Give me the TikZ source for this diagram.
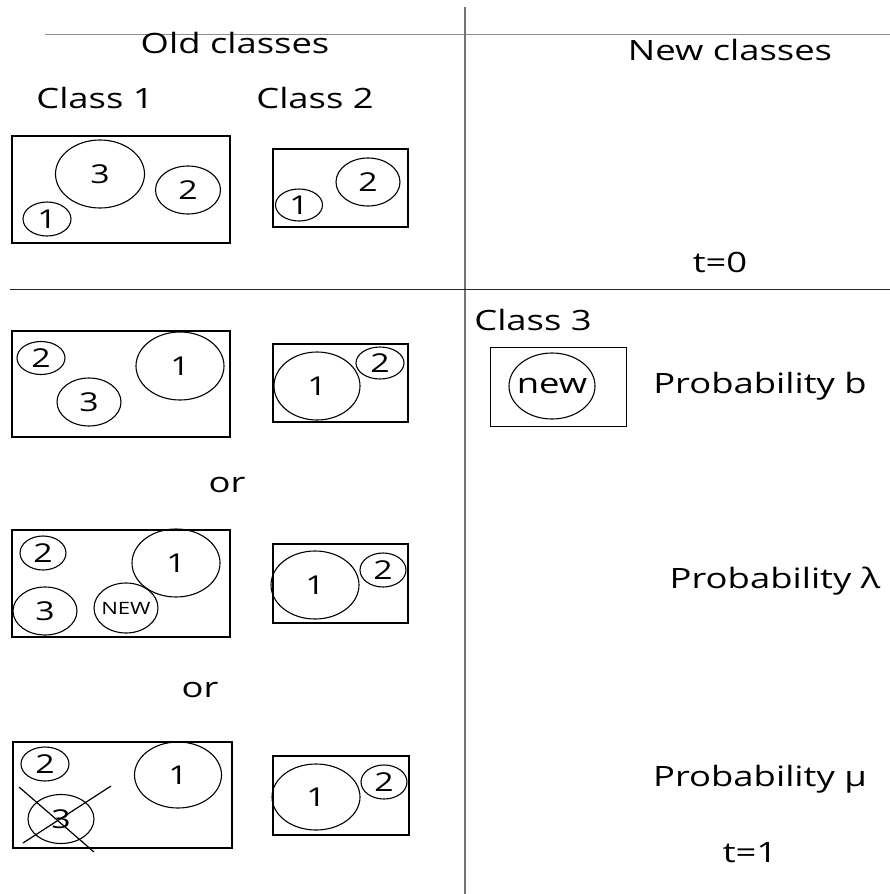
\documentclass[tikz,border=0pt]{standalone}
\usepackage{fontspec}
\setmainfont[FakeStretch=1.3]{Open Sans}
\usetikzlibrary{shapes.geometric}
\begin{document}
\begin{tikzpicture}[x=1pt,y=-1pt,
  lbl/.style={font=\fontsize{28}{34}\selectfont, inner sep=0pt, anchor=base},
  ell/.style={draw, ellipse, inner sep=0pt, line width=1.1pt, font=\fontsize{26}{30}\selectfont},
  frame/.style={draw, line width=1.5pt},
  sep/.style={line width=1pt}]
\useasboundingbox (0,0) rectangle (890,894);
% separators
\draw[sep, black!45] (45,34) -- (890,34);
\draw[sep, line width=1.4pt, black!55] (465,7) -- (465,894);
\draw[sep, black!85] (10,289) -- (890,289);
% headings
\node[lbl] (old) at (235,53) {Old classes};
\node[lbl] (new) at (730,60) {New classes};
\node[lbl] (c1) at (95,108) {Class 1};
\node[lbl] (c2) at (315,108) {Class 2};
\node[lbl] (t0) at (720,272) {t=0};
\node[lbl] (c3) at (533,330) {Class 3};
\node[lbl] (pb) at (760,393) {Probability b};
\node[lbl] (or1) at (227,492) {or};
\node[lbl] (pl) at (775,588) {Probability λ};
\node[lbl] (or2) at (200,697) {or};
\node[lbl] (pm) at (760,786) {Probability μ};
\node[lbl] (t1) at (750,862) {t=1};
% row t=0
\draw[frame] (12,136) rectangle (230,243);
\draw[frame] (273,149) rectangle (408,227);
\node[ell, minimum width=89, minimum height=68] (a3) at (100,174) {3};
\node[ell, minimum width=65, minimum height=48] (a2) at (188,190) {2};
\node[ell, minimum width=48, minimum height=34] (a1) at (47,219) {1};
\node[ell, minimum width=47, minimum height=32] (b1) at (299,205) {1};
\node[ell, minimum width=64, minimum height=48] (b2) at (368,182) {2};
% row 2
\draw[frame] (12,331) rectangle (230,437);
\draw[frame] (273,344) rectangle (408,422);
\node[ell, minimum width=48, minimum height=33] (d2) at (41,358) {2};
\node[ell, minimum width=64, minimum height=48] (d3) at (89,402) {3};
\node[ell, minimum width=88, minimum height=68] (d1) at (180,366) {1};
\node[ell, minimum width=86, minimum height=68] (e1) at (317,386) {1};
\node[ell, minimum width=48, minimum height=32] (e2) at (380,363) {2};
% class 3
\draw[draw, line width=1pt] (490,347) rectangle (626,426);
\node[ell, minimum width=86, minimum height=66, inner xsep=-7pt, inner ysep=-4pt, font=\fontsize{28}{34}\selectfont] (nw) at (552,386) {new};
% row 3
\draw[frame] (12,530) rectangle (230,637);
\draw[frame] (273,544) rectangle (408,623);
\node[ell, minimum width=46, minimum height=34] (f2) at (43,553) {2};
\node[ell, minimum width=64, minimum height=48] (f3) at (45,611) {3};
\node[ell, minimum width=64, minimum height=50, inner xsep=-4pt, inner ysep=-2pt, font=\fontsize{17}{20}\selectfont] (fn) at (126,608) {NEW};
\node[ell, minimum width=88, minimum height=68] (f1) at (176,563) {1};
\node[ell, minimum width=88, minimum height=68] (g1) at (315,585) {1};
\node[ell, minimum width=46, minimum height=34] (g2) at (383,570) {2};
% row 4
\draw[frame] (13,742) rectangle (232,848);
\draw[frame] (273,756) rectangle (409,835);
\node[ell, minimum width=48, minimum height=34] (h2) at (45,764) {2};
\node[ell, minimum width=66, minimum height=49] (h3) at (61,819) {3};
\node[ell, minimum width=87, minimum height=66] (h1) at (178,775) {1};
\node[ell, minimum width=88, minimum height=66] (k1) at (316,797) {1};
\node[ell, minimum width=46, minimum height=34] (k2) at (384,782) {2};
% cross
\coordinate (xa1) at (19,787);
\coordinate (xa2) at (94,852);
\coordinate (xb1) at (23,843);
\coordinate (xb2) at (111,786);
\draw[line width=1.2pt] (xa1) -- (xa2);
\draw[line width=1.2pt] (xb1) -- (xb2);
\end{tikzpicture}
\end{document}
